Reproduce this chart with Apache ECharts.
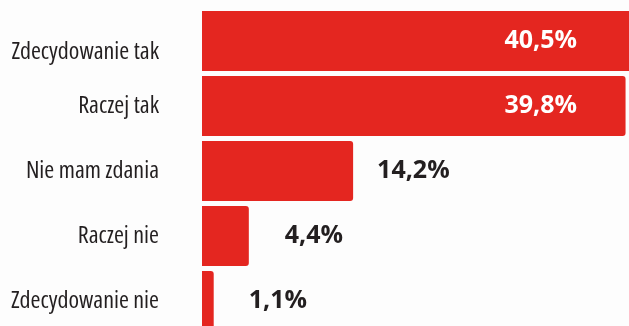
<!DOCTYPE html>
<html>
<head>
<meta charset="utf-8">
<script src="https://cdn.jsdelivr.net/npm/echarts@6/dist/echarts.min.js"></script>
<style>
html,body{margin:0;padding:0;background:#fdfdfd;}
#c{width:629px;height:326px;}
</style>
</head>
<body>
<div id="c"></div>
<script>
const categories = ['Zdecydowanie tak', 'Raczej tak', 'Nie mam zdania', 'Raczej nie', 'Zdecydowanie nie'];
const values = [40.5, 39.8, 14.2, 4.4, 1.1];
const valueLabels = ['40,5%', '39,8%', '14,2%', '4,4%', '1,1%'];

const insideCount = 2;
const outsideDistances = [0, 0, 24, 36, 35];

const chart = echarts.init(document.getElementById('c'), null, {renderer: 'canvas'});

const data = values.map((v, i) => {
  const label = i < insideCount ? {
    show: true,
    position: [375, '50%'],
    align: 'right',
    verticalAlign: 'middle',
    color: '#ffffff'
  } : {
    show: true,
    position: 'right',
    distance: outsideDistances[i],
    color: '#231f20'
  };
  return { value: v, label: label };
});

const catFont = {
  fontFamily: 'Open Sans',
  fontWeight: 'extra-condensed',
  fontSize: 24,
  color: '#231f20'
};

chart.setOption({
  backgroundColor: '#fdfdfd',
  animation: false,
  grid: { left: 202, right: -4, top: 8.5, bottom: -7.5, containLabel: false, outerBoundsMode: 'none' },
  xAxis: {
    type: 'value', min: 0, max: 40.5,
    show: false
  },
  yAxis: {
    type: 'category',
    data: categories,
    inverse: true,
    axisLine: { show: false },
    axisTick: { show: false },
    splitLine: { show: false },
    axisLabel: Object.assign({
      margin: 43,
      hideOverlap: false,
      formatter: (v, i) => i === 0 ? '{low|' + v + '}' : v,
      rich: {
        low: Object.assign({ padding: [22, 0, 0, 0] }, catFont)
      }
    }, catFont)
  },
  series: [{
    type: 'bar',
    data: data,
    barWidth: 60,
    clip: false,
    itemStyle: { color: '#e42620', borderRadius: [0, 3, 3, 0] },
    label: {
      show: true,
      fontFamily: 'Open Sans, sans-serif',
      fontWeight: 'bold',
      fontSize: 25,
      formatter: p => valueLabels[p.dataIndex]
    }
  }]
});
</script>
</body>
</html>
